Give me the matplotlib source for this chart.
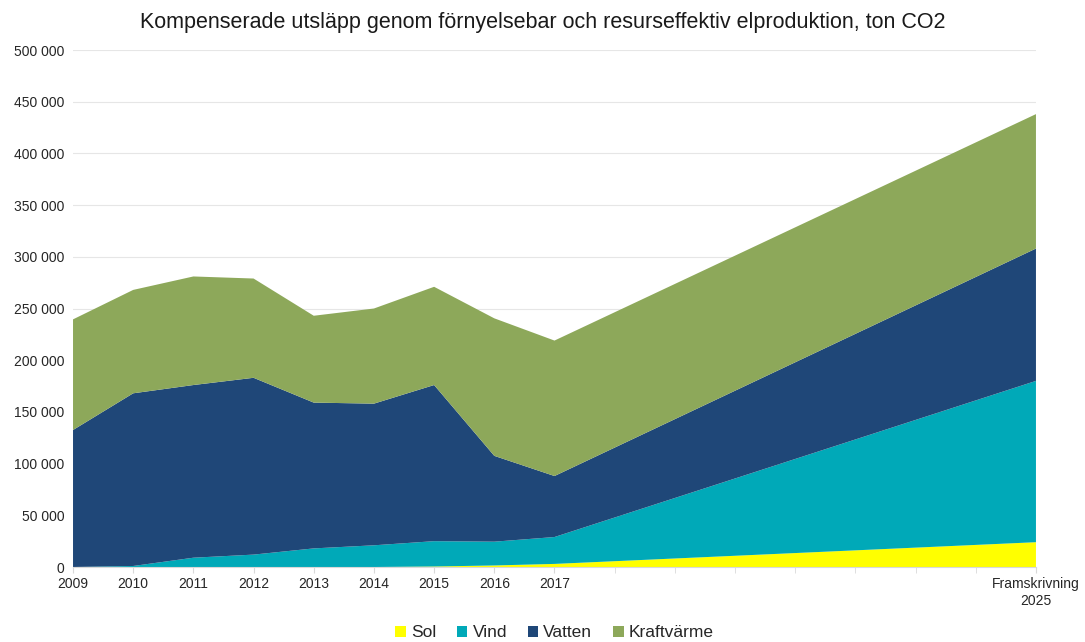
import matplotlib.pyplot as plt
import numpy as np

plt.rcParams['font.family'] = ['Liberation Sans', 'DejaVu Sans']

# x positions: 2009..2017, then the projection for 2025 (no data between)
years = [2009, 2010, 2011, 2012, 2013, 2014, 2015, 2016, 2017, 2025]
tick_labels = ['2009', '2010', '2011', '2012', '2013', '2014', '2015', '2016', '2017',
               'Framskrivning\n2025']

sol = [0, 0, 0, 0, 0, 0, 500, 1500, 3000, 24000]
vind = [0, 1000, 9000, 12000, 18000, 21000, 24500, 23000, 26000, 156000]
vatten = [132500, 167000, 167000, 171000, 141000, 137000, 151000, 83000, 59000, 128000]
kraftvarme = [107000, 100000, 105000, 96000, 84000, 92000, 95000, 133000, 131000, 130000]

labels = ['Sol', 'Vind', 'Vatten', 'Kraftvärme']
colors = ['#ffff00', '#00a9b8', '#1f4778', '#8da85a']

x = np.array(years) - 2009

fig = plt.figure(figsize=(10.85, 6.42), dpi=100)
ax = fig.add_axes([0.0673, 0.1168, 0.8875, 0.8053])

ax.stackplot(x, sol, vind, vatten, kraftvarme, labels=labels, colors=colors, linewidth=0)

ax.set_xlim(0, 16)
ax.set_ylim(0, 500000)
ax.set_yticks(np.arange(0, 500001, 50000))
ax.set_yticklabels(['{:,}'.format(v).replace(',', ' ') for v in range(0, 500001, 50000)])
ax.set_xticks(x)
ax.set_xticklabels(tick_labels)
ax.set_xticks(np.arange(0, 17), minor=True)
ax.tick_params(axis='x', which='both', length=4, color='#d9d9d9', labelsize=10, labelcolor='#262626')
ax.tick_params(axis='y', length=0, labelsize=10, pad=6, labelcolor='#262626')
ax.grid(axis='y', color='#e6e6e6', linewidth=0.8)
ax.set_axisbelow(True)
for s in ['top', 'right', 'left']:
    ax.spines[s].set_visible(False)
ax.spines['bottom'].set_color('#d9d9d9')

fig.suptitle('Kompenserade utsläpp genom förnyelsebar och resurseffektiv elproduktion, ton CO2',
             x=0.5, y=0.982, fontsize=15.5, color='#1a1a1a')

ax.legend(loc='center', bbox_to_anchor=(0.5, -0.127), ncol=4, frameon=False,
          fontsize=12.5, handlelength=0.6, handleheight=0.6, handletextpad=0.3,
          columnspacing=1.2, labelcolor='#262626')

plt.savefig('out.png', dpi=100)
